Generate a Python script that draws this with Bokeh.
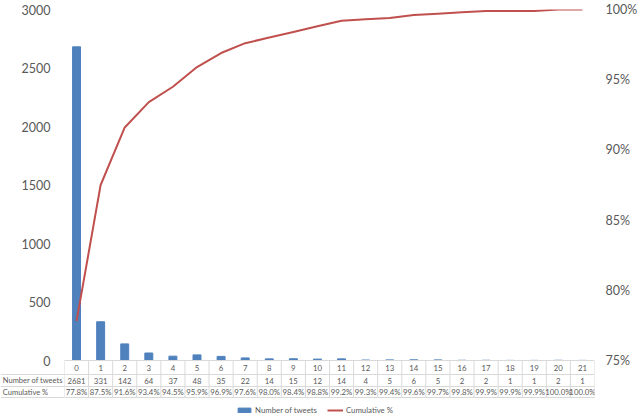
from bokeh.core.properties import value
from bokeh.embed import file_html
from bokeh.models import (
    ColumnDataSource,
    FixedTicker,
    Legend,
    LegendItem,
    LinearAxis,
    NumeralTickFormatter,
    Range1d,
)
from bokeh.plotting import figure
from bokeh.resources import INLINE

CATEGORIES = ["0", "1", "2", "3", "4", "5", "6", "7", "8", "9", "10",
              "11", "12", "13", "14", "15", "16", "17", "18", "19", "20", "21"]
TWEETS = [2681, 331, 142, 64, 37, 48, 35, 22, 14, 15, 12,
          14, 4, 5, 6, 5, 2, 2, 1, 1, 2, 1]
CUMULATIVE_PCT = [77.8, 87.5, 91.6, 93.4, 94.5, 95.9, 96.9, 97.6, 98.0, 98.4, 98.8,
                  99.2, 99.3, 99.4, 99.6, 99.7, 99.8, 99.9, 99.9, 99.9, 100.0, 100.0]
ROW_NAMES = ["Number of tweets", "Cumulative %"]
Y_TICKS = [0, 500, 1000, 1500, 2000, 2500, 3000]
PCT_TICKS = [0.75, 0.80, 0.85, 0.90, 0.95, 1.0]

# layout (pixels)
W, H = 640, 420
FRAME_L, FRAME_R = 64, 597
FRAME_T, ZERO_Y = 9, 360
ROW_EDGES_PX = [0, 14, 26, 37]  # table lines, pixels below the value axis
TEXT_COLOR = "#595959"
GRID_COLOR = "#d9d9d9"
BAR_COLOR = "#4f81bd"
LINE_COLOR = "#c0504d"
FONT = "Lato"
TABLE_FONT_SIZE = "7.8px"

n = len(CATEGORIES)
px_per_cat = (FRAME_R - FRAME_L) / n
ky = Y_TICKS[-1] / (ZERO_Y - FRAME_T)
kp = (PCT_TICKS[-1] - PCT_TICKS[0]) / (ZERO_Y - FRAME_T)
below_px = H - ZERO_Y

p = figure(
    width=W,
    height=H,
    x_range=Range1d(-0.5, n - 0.5),
    y_range=Range1d(-below_px * ky, Y_TICKS[-1]),
    x_axis_location=None,
    y_axis_location=None,
    output_backend="svg",
    toolbar_location=None,
    min_border_left=FRAME_L,
    min_border_right=W - FRAME_R,
    min_border_top=FRAME_T,
    min_border_bottom=0,
    outline_line_color=None,
)
p.grid.visible = False
p.extra_y_ranges = {"pct": Range1d(PCT_TICKS[0] - below_px * kp, PCT_TICKS[-1])}

left_axis = LinearAxis(ticker=FixedTicker(ticks=Y_TICKS))
right_axis = LinearAxis(y_range_name="pct", ticker=FixedTicker(ticks=PCT_TICKS),
                        formatter=NumeralTickFormatter(format="0%"))
for ax, standoff in ((left_axis, 14), (right_axis, 11)):
    ax.axis_line_color = None
    ax.major_tick_line_color = None
    ax.minor_tick_line_color = None
    ax.major_tick_out = 0
    ax.minor_tick_out = 0
    ax.major_tick_in = 0
    ax.minor_tick_in = 0
    ax.major_label_standoff = standoff
    ax.major_label_text_font = FONT
    ax.major_label_text_font_size = "12.5px"
    ax.major_label_text_color = TEXT_COLOR
p.add_layout(left_axis, "left")
p.add_layout(right_axis, "right")

xs = list(range(n))
src = ColumnDataSource(dict(
    x=xs,
    cat=CATEGORIES,
    tweets=TWEETS,
    tweets_txt=[str(t) for t in TWEETS],
    pct=[c / 100 for c in CUMULATIVE_PCT],
    pct_txt=[f"{c:.1f}%" for c in CUMULATIVE_PCT],
))

bars = p.vbar(x="x", top="tweets", width=0.33, source=src, color=BAR_COLOR)
line = p.line(x="x", y="pct", source=src, y_range_name="pct",
              line_color=LINE_COLOR, line_width=2)

# data table under the chart
edge_y = [-e * ky for e in ROW_EDGES_PX]
p.segment(x0=-0.5, y0=edge_y, x1=n - 0.5, y1=edge_y, line_color=GRID_COLOR, line_width=1)
vx = [i - 0.5 for i in range(n + 1)]
p.segment(x0=vx, y0=0, x1=vx, y1=edge_y[-1], line_color=GRID_COLOR, line_width=1)
x_far = -0.5 - FRAME_L / px_per_cat
p.segment(x0=x_far, y0=edge_y[1:], x1=-0.5, y1=edge_y[1:], line_color=GRID_COLOR,
          line_width=1, level="overlay")

centers = [(edge_y[i] + edge_y[i + 1]) / 2 for i in range(3)]
for col, yc in zip(("cat", "tweets_txt", "pct_txt"), centers):
    p.text(x="x", y=yc, text=col, source=src, text_align="center", text_baseline="middle",
           text_font=value(FONT), text_font_size=TABLE_FONT_SIZE, text_color=TEXT_COLOR)
p.text(x=[x_far + 2 / px_per_cat] * 2, y=centers[1:], text=ROW_NAMES, text_align="left",
       text_baseline="middle", text_font=value(FONT), text_font_size="7.5px",
       text_color=TEXT_COLOR, level="overlay")

legend = Legend(
    items=[LegendItem(label="Number of tweets", renderers=[bars]),
           LegendItem(label="Cumulative %", renderers=[line])],
    location=(172, 5),
    orientation="horizontal",
    spacing=10,
    padding=0,
    margin=0,
    glyph_width=16,
    glyph_height=6,
    label_standoff=3,
    label_text_font=FONT,
    label_text_font_size=TABLE_FONT_SIZE,
    label_text_color=TEXT_COLOR,
    border_line_color=None,
    background_fill_alpha=0,
)
p.add_layout(legend)

open("out.html", "w").write(file_html(p, INLINE))
